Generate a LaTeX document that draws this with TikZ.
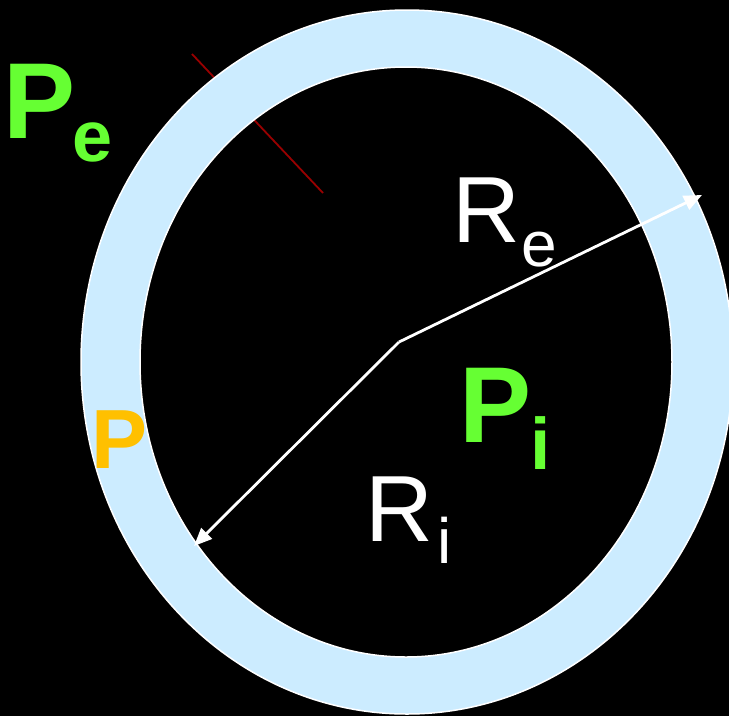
\documentclass[tikz,border=0pt]{standalone}
\usepackage{fontspec}
\setmainfont{Liberation Sans}
\usetikzlibrary{arrows.meta}
\definecolor{ringblue}{RGB}{204,236,255}
\definecolor{pgreen}{RGB}{102,255,51}
\definecolor{porange}{RGB}{255,192,0}
\definecolor{cutred}{RGB}{153,0,0}

\begin{document}
\begin{tikzpicture}[
  x=1pt, y=-1pt,
  lbl/.style={anchor=base west, inner sep=0pt, outer sep=0pt},
  bigbold/.style={lbl, font=\fontsize{108}{108}\selectfont\bfseries, text=pgreen},
  subbold/.style={lbl, font=\fontsize{72}{72}\selectfont\bfseries, text=pgreen},
  bigreg/.style={lbl, font=\fontsize{94}{94}\selectfont, text=white},
  subreg/.style={lbl, font=\fontsize{64}{64}\selectfont, text=white},
  radius arrow/.style={draw=white, line width=2.8pt, line join=miter,
    -{Triangle[length=18pt, width=15pt]}}
]
\useasboundingbox[fill=black] (0,0) rectangle (729,716);
\clip (0,0) rectangle (729,716);

% cut line behind the ring
\coordinate (cutA) at (192,54);
\coordinate (cutB) at (323,193);
\draw[cutred, line width=1.8pt] (cutA) -- (cutB);

% the ring
\fill[ringblue, even odd rule]
  (407,362) ellipse [x radius=326pt, y radius=352pt]
  (406,362) ellipse [x radius=266pt, y radius=295pt];
\draw[white, line width=1.5pt] (407,362) ellipse [x radius=326pt, y radius=352pt];
\draw[white, line width=1.5pt] (406,362) ellipse [x radius=266pt, y radius=295pt];

% radii
\coordinate (ctr) at (399,342);
\coordinate (outerpt) at (702,195);
\coordinate (innerpt) at (194,546);
\draw[radius arrow] (ctr) -- (outerpt);
\draw[radius arrow] (ctr) -- (innerpt);

% labels
\node[bigbold] (pe) at (4,138) {P};
\node[subbold] (pesub) at (72,161) {e};

\node[bigbold] (pi) at (459,442) {P};
\node[subbold, font=\fontsize{73}{73}\selectfont\bfseries] (pisub) at (530,469) {i};

\node[bigreg] (re) at (452,242) {R};
\node[subreg] (resub) at (521,266) {e};

\node[bigreg] (ri) at (365,541) {R};
\node[subreg] (risub) at (437,563) {i};

\node[lbl, font=\fontsize{84}{84}\selectfont\bfseries, text=porange] (pwall) at (91,468) {P};
\end{tikzpicture}
\end{document}
